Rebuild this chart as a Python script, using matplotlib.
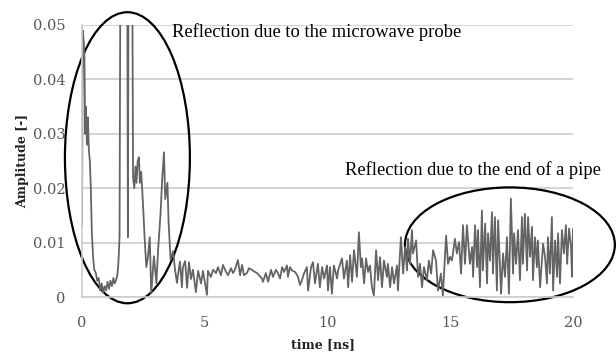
import numpy as np
import matplotlib.pyplot as plt
from matplotlib.patches import Ellipse

# Probe reflection region (0 - 3.8 ns); values above 0.05 run off the top
t_probe = [0.00, 0.03, 0.07, 0.10, 0.13, 0.16, 0.20, 0.24, 0.28, 0.32, 0.36, 0.40,
           0.45, 0.50, 0.56, 0.62, 0.68, 0.74, 0.80, 0.86, 0.92, 0.98, 1.04, 1.10,
           1.16, 1.22, 1.28, 1.33, 1.38, 1.44, 1.48, 1.53, 1.57, 1.70, 1.84, 1.87,
           1.90, 2.04, 2.08, 2.13, 2.18, 2.22, 2.27, 2.32, 2.36, 2.41, 2.48, 2.55,
           2.62, 2.69, 2.76, 2.82, 2.93, 3.03, 3.10, 3.20, 3.27, 3.34, 3.39, 3.48,
           3.53, 3.61, 3.71]
a_probe = [0.013, 0.049, 0.047, 0.044, 0.030, 0.035, 0.028, 0.033, 0.027, 0.025, 0.020, 0.012,
           0.0075, 0.005, 0.0045, 0.003, 0.0035, 0.0012, 0.0025, 0.0008, 0.002, 0.0012, 0.0028, 0.0015,
           0.003, 0.002, 0.0035, 0.0025, 0.003, 0.004, 0.006, 0.011, 0.07, 0.07, 0.07, 0.011,
           0.07, 0.07, 0.022, 0.020, 0.024, 0.021, 0.025, 0.0257, 0.021, 0.023, 0.0175, 0.011,
           0.0055, 0.0075, 0.011, 0.0007, 0.0075, 0.0025, 0.0086, 0.0154, 0.022, 0.0266, 0.018, 0.021,
           0.0135, 0.0068, 0.0084]

# Quiet section inside the pipe (3.8 - 8 ns)
t_mid = [3.79, 3.87, 3.91, 3.99, 4.07, 4.11, 4.20, 4.28, 4.36, 4.44, 4.52, 4.64,
         4.73, 4.85, 4.93, 5.09, 5.13, 5.25, 5.34, 5.46, 5.54, 5.66, 5.74, 5.87,
         5.95, 6.07, 6.15, 6.23, 6.35, 6.44, 6.52, 6.60, 6.72, 6.80, 6.92, 7.01,
         7.13, 7.21, 7.33, 7.37, 7.49, 7.58, 7.70, 7.78, 7.90, 7.98]
a_mid = [0.0050, 0.0026, 0.0040, 0.0065, 0.0018, 0.0055, 0.0066, 0.0017, 0.0064, 0.0033, 0.0050, 0.0009,
         0.0048, 0.0025, 0.0048, 0.0004, 0.0048, 0.0037, 0.0050, 0.0044, 0.0055, 0.0040, 0.0059, 0.0046,
         0.0040, 0.0053, 0.0044, 0.0050, 0.0068, 0.0040, 0.0059, 0.0040, 0.0044, 0.0053, 0.0050, 0.0047,
         0.0044, 0.0040, 0.0034, 0.0028, 0.0044, 0.0028, 0.0050, 0.0037, 0.0050, 0.0044]

# Noise starts to grow (8 - 15.8 ns)
t_rise = [8.07, 8.15, 8.23, 8.35, 8.39, 8.47, 8.55, 8.68, 8.80, 8.88, 8.96, 9.04,
          9.16, 9.21, 9.33, 9.41, 9.49, 9.61, 9.69, 9.78, 9.86, 9.98, 10.02, 10.10,
          10.18, 10.26, 10.39, 10.43, 10.59, 10.67, 10.79, 10.84, 10.92, 11.00, 11.08, 11.20,
          11.28, 11.36, 11.41, 11.49, 11.57, 11.65, 11.73, 11.81, 11.89, 11.98, 12.06, 12.14,
          12.22, 12.30, 12.42, 12.46, 12.55, 12.63, 12.71, 12.83, 12.87, 12.99, 13.08, 13.16,
          13.24, 13.28, 13.36, 13.44, 13.48, 13.61, 13.69, 13.77, 13.85, 13.93, 14.05, 14.13,
          14.22, 14.30, 14.42, 14.50, 14.62, 14.70, 14.83, 14.91, 14.99, 15.07, 15.19, 15.27,
          15.36, 15.44, 15.52, 15.60, 15.68, 15.76]
a_rise = [0.0034, 0.0055, 0.0046, 0.0058, 0.0037, 0.0055, 0.0049, 0.0046, 0.0037, 0.0022, 0.0031, 0.0043,
          0.0055, 0.0012, 0.0055, 0.0064, 0.0025, 0.0061, 0.0018, 0.0055, 0.0034, 0.0058, 0.0012, 0.0055,
          0.0006, 0.0058, 0.0034, 0.0049, 0.0071, 0.0034, 0.0067, 0.0018, 0.0077, 0.0028, 0.0086, 0.0037,
          0.0119, 0.0055, 0.0071, 0.0025, 0.0071, 0.0046, 0.0058, 0.0018, 0.0003, 0.0086, 0.0031, 0.0073,
          0.0018, 0.0067, 0.0037, 0.0061, 0.0018, 0.0055, 0.0025, 0.0058, 0.0012, 0.0110, 0.0043, 0.0092,
          0.0049, 0.0107, 0.0061, 0.0123, 0.0080, 0.0104, 0.0037, 0.0061, 0.0018, 0.0055, 0.0031, 0.0067,
          0.0043, 0.0086, 0.0067, 0.0012, 0.0043, 0.0003, 0.0113, 0.0061, 0.0074, 0.0067, 0.0107, 0.0080,
          0.0101, 0.0043, 0.0132, 0.0061, 0.0132, 0.0083]

# Reflection from the pipe end (15.8 - 20 ns)
t_end = [15.80, 15.89, 15.93, 16.01, 16.09, 16.13, 16.21, 16.29, 16.33, 16.42, 16.50, 16.54,
         16.62, 16.70, 16.74, 16.82, 16.90, 16.95, 17.07, 17.15, 17.23, 17.31, 17.39, 17.47,
         17.56, 17.60, 17.68, 17.76, 17.84, 17.92, 17.96, 18.04, 18.13, 18.17, 18.25, 18.33,
         18.37, 18.45, 18.53, 18.57, 18.66, 18.78, 18.86, 18.94, 18.98, 19.06, 19.14, 19.19,
         19.27, 19.35, 19.39, 19.47, 19.55, 19.63, 19.71, 19.76, 19.84, 19.92, 19.96, 20.00]
a_end = [0.0061, 0.0092, 0.0037, 0.0132, 0.0055, 0.0123, 0.0018, 0.0159, 0.0049, 0.0135, 0.0025, 0.0117,
         0.0067, 0.0156, 0.0043, 0.0147, 0.0012, 0.0141, 0.0006, 0.0080, 0.0037, 0.0110, 0.0006, 0.0181,
         0.0043, 0.0117, 0.0061, 0.0123, 0.0031, 0.0147, 0.0061, 0.0153, 0.0049, 0.0147, 0.0074, 0.0129,
         0.0031, 0.0110, 0.0055, 0.0104, 0.0018, 0.0098, 0.0074, 0.0025, 0.0110, 0.0043, 0.0147, 0.0012,
         0.0104, 0.0037, 0.0117, 0.0025, 0.0123, 0.0080, 0.0132, 0.0061, 0.0126, 0.0092, 0.0037, 0.0125]

t = np.concatenate([t_probe, t_mid, t_rise, t_end])
amp = np.concatenate([a_probe, a_mid, a_rise, a_end])

x_ticks = [0, 5, 10, 15, 20]
y_ticks = [0, 0.01, 0.02, 0.03, 0.04, 0.05]
y_labels = ["0", "0.01", "0.02", "0.03", "0.04", "0.05"]

plt.rcParams["font.family"] = "DejaVu Serif"

fig = plt.figure(figsize=(6.16, 3.53), dpi=100)
ax = fig.add_axes([0.1331, 0.1586, 0.7971, 0.7706])

ax.plot(t, amp, color="#646464", lw=1.3)
ax.set_xlim(0, 20)
ax.set_ylim(0, 0.05)

ax.set_yticks(y_ticks)
ax.set_yticklabels(y_labels)
ax.set_xticks(x_ticks)
ax.yaxis.grid(True, color="#cccccc", lw=1.2)
ax.set_axisbelow(True)
ax.tick_params(length=0, colors="#555555", labelsize=10.5, pad=12)
ax.tick_params(axis="x", pad=14)

for side in ["top", "right"]:
    ax.spines[side].set_visible(False)
ax.spines["left"].set_color("#cccccc")
ax.spines["bottom"].set_color("#cccccc")
ax.spines["left"].set_linewidth(1.2)
ax.spines["bottom"].set_linewidth(1.2)

ax.set_xlabel("time [ns]", weight="bold", fontsize=9, color="#222222")
ax.set_ylabel("Amplitude [-]", weight="bold", fontsize=9, color="#222222")
ax.xaxis.set_label_coords(0.49, -0.152)
ax.yaxis.set_label_coords(-0.108, 0.5)

# circled regions with notes
ax.add_patch(Ellipse((1.85, 0.0256), 5.09, 0.0535, fill=False, ec="black", lw=1.6, clip_on=False))
ax.add_patch(Ellipse((17.43, 0.0096), 8.55, 0.0211, fill=False, ec="black", lw=1.6, clip_on=False))
ax.text(3.67, 0.0478, "Reflection due to the microwave probe", family="Liberation Serif",
        fontsize=13.3, va="baseline", ha="left")
ax.text(10.71, 0.0224, "Reflection due to the end of a pipe", family="Liberation Serif",
        fontsize=13.3, va="baseline", ha="left")

fig.savefig("out.png", dpi=100)
